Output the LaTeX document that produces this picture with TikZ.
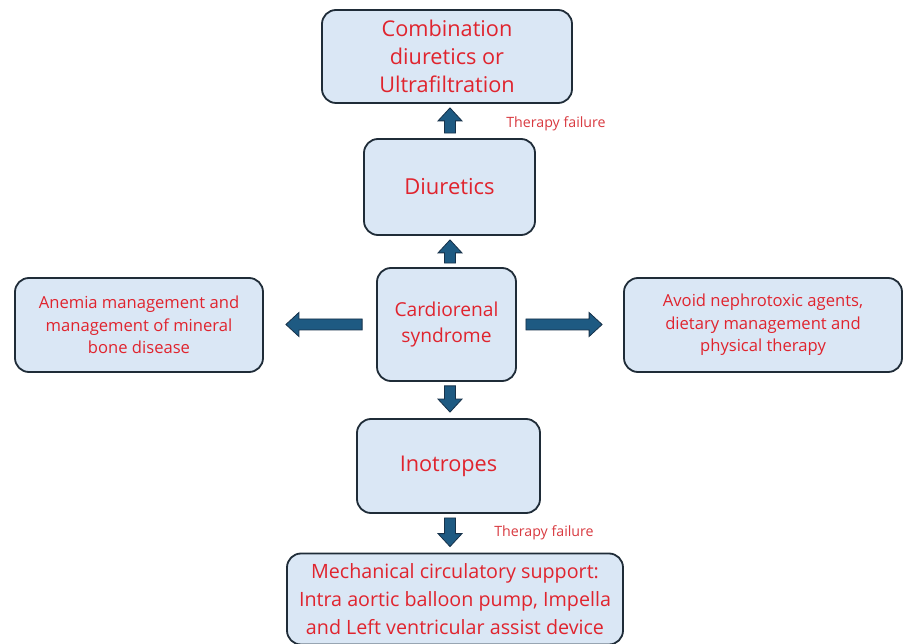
\documentclass[tikz,border=0pt]{standalone}
\usepackage{fontspec}
\setmainfont{Open Sans}
\usetikzlibrary{calc}
\definecolor{boxfill}{HTML}{DAE7F5}
\definecolor{boxline}{HTML}{1F2C38}
\definecolor{txtred}{HTML}{E0242E}
\definecolor{failred}{HTML}{D93A40}
\definecolor{arrfill}{HTML}{1E5A82}
\definecolor{arrline}{HTML}{17324A}
\tikzset{
  box/.style={draw=boxline, line width=1.8pt, fill=boxfill, rounded corners=14pt,
    align=center, text=txtred, inner sep=0pt},
  barrow/.style={fill=arrfill, draw=arrline, line width=0.8pt, line join=miter},
  fail/.style={text=failred, font=\fontsize{14.2}{16}\selectfont, inner sep=0pt}
}
\newcommand\blockarrow[4]{%
  \path[barrow] let \p1=(#1), \p2=(#2),
     \n1={atan2(\y2-\y1,\x2-\x1)}, \n2={veclen(\x2-\x1,\y2-\y1)} in
     [shift={(\p1)}, rotate=\n1]
     (#3,-5.5) -- ({\n2-#4-13},-5.5) -- ({\n2-#4-13},-12) -- ({\n2-#4},0)
     -- ({\n2-#4-13},12) -- ({\n2-#4-13},5.5) -- (#3,5.5) -- cycle;}
\begin{document}
\begin{tikzpicture}[x=1pt,y=-1pt]
\useasboundingbox (0,0) rectangle (903,644);
\fill[white] (0,0) rectangle (903,644);
\node[box, minimum width=250pt, minimum height=93pt, font=\fontsize{21.7}{28}\selectfont]
  (top) at (447,56.5) {Combination\\diuretics or\\Ultrafiltration};
\node[box, minimum width=171pt, minimum height=96pt, font=\fontsize{22}{28}\selectfont]
  (dia) at (449.5,187) {Diuretics};
\node[box, minimum width=139pt, minimum height=113pt, font=\fontsize{19.2}{26}\selectfont]
  (cardio) at (446.5,324.5) {Cardiorenal\\syndrome};
\node[box, minimum width=248pt, minimum height=94pt, font=\fontsize{16.6}{22.5}\selectfont]
  (left) at (139,325) {Anemia management and\\management of mineral\\bone disease};
\node[box, minimum width=278pt, minimum height=94pt, font=\fontsize{16.6}{22.5}\selectfont]
  (right) at (763,325) {Avoid nephrotoxic agents,\\dietary management and\\physical therapy};
\node[box, minimum width=183pt, minimum height=94pt, font=\fontsize{21.7}{28}\selectfont]
  (ino) at (448.5,466) {Inotropes};
\node[box, minimum width=336pt, minimum height=91pt, font=\fontsize{19.7}{28}\selectfont]
  (bot) at (455,599) {Mechanical circulatory support:\\Intra aortic balloon pump, Impella\\and Left ventricular assist device};
\node[fail] (f1) at (556,124) {Therapy failure};
\node[fail] (f2) at (544,533) {Therapy failure};
\coordinate (ax) at (450,0);
\blockarrow{ax |- dia.north}{ax |- top.south}{5}{4}
\blockarrow{ax |- cardio.north}{ax |- dia.south}{4}{4}
\blockarrow{ax |- cardio.south}{ax |- ino.north}{4}{6}
\blockarrow{ax |- ino.south}{ax |- bot.north}{4}{6}
\blockarrow{cardio.west}{cardio.west -| left.east}{14}{22}
\blockarrow{cardio.east}{cardio.east -| right.west}{9}{21}
\end{tikzpicture}
\end{document}
